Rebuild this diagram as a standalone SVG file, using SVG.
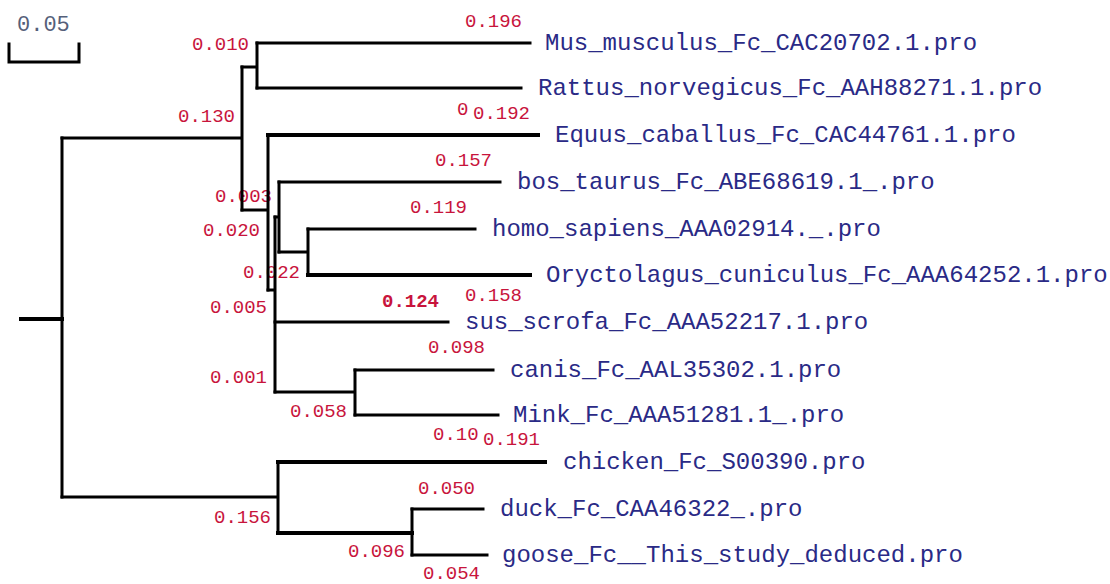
<svg xmlns="http://www.w3.org/2000/svg" width="1110" height="584" viewBox="0 0 1110 584">
  <style>
    .bg { fill: #ffffff; }
    .br { fill: none; stroke: #000000; stroke-width: 3; stroke-linecap: square; }
    .thick { stroke-width: 4; }
    .leaf { font-family: "Liberation Mono", "Courier New", monospace; font-size: 24px; fill: #2a2a86; }
    .len { font-family: "Liberation Mono", "Courier New", monospace; font-size: 19px; fill: #c8143c; }
    .scale { font-family: "Liberation Mono", "Courier New", monospace; font-size: 22px; fill: #55607a; }
  </style>
  <rect class="bg" x="0" y="0" width="1110" height="584"/>

  <!-- scale bar -->
  <g id="scale-bar">
    <text class="scale" x="17" y="31">0.05</text>
    <path class="br" d="M9,44 V62 H79 V44"/>
  </g>

  <!-- branch lengths -->
  <g id="branch-lengths">
    <text class="len" x="465" y="27">0.196</text>
    <text class="len" x="192" y="50">0.010</text>
    <text class="len" x="178" y="122">0.130</text>
    <text class="len" x="457" y="115">0</text>
    <text class="len" x="473" y="119">0.192</text>
    <text class="len" x="435" y="166">0.157</text>
    <text class="len" x="215" y="202">0.003</text>
    <text class="len" x="410" y="213">0.119</text>
    <text class="len" x="203" y="236">0.020</text>
    <text class="len" x="243" y="278">0.022</text>
    <text class="len" x="382" y="307" font-weight="bold">0.124</text>
    <text class="len" x="465" y="301">0.158</text>
    <text class="len" x="210" y="313">0.005</text>
    <text class="len" x="428" y="353">0.098</text>
    <text class="len" x="210" y="383">0.001</text>
    <text class="len" x="290" y="417">0.058</text>
    <text class="len" x="433" y="440">0.10</text>
    <text class="len" x="483" y="445">0.191</text>
    <text class="len" x="418" y="494">0.050</text>
    <text class="len" x="214" y="523">0.156</text>
    <text class="len" x="348" y="557">0.096</text>
    <text class="len" x="423" y="579">0.054</text>
  </g>

  <!-- tree branches -->
  <g id="connectors">
    <path class="br thick" d="M21,319 H62"/>
    <path class="br" d="M62,138 V497"/>
    <path class="br" d="M62,138 H242 M242,67 V210"/>
    <path class="br" d="M242,67 H257 M257,43 V88"/>
    <path class="br" d="M257,43 H530"/>
    <path class="br" d="M257,88 H521"/>
    <path class="br" d="M242,210 H268 M268,135 V290"/>
    <path class="br thick" d="M268,135 H538"/>
    <path class="br" d="M268,290 H275 M275,217 V392"/>
    <path class="br" d="M275,217 H279 M279,182 V252"/>
    <path class="br" d="M279,182 H500"/>
    <path class="br" d="M279,252 H308 M308,229 V275"/>
    <path class="br" d="M308,229 H475"/>
    <path class="br thick" d="M308,275 H530"/>
    <path class="br" d="M275,322 H448"/>
    <path class="br" d="M275,392 H355 M355,370 V415"/>
    <path class="br" d="M355,370 H493"/>
    <path class="br" d="M355,415 H498"/>
    <path class="br" d="M62,497 H278 M278,462 V533"/>
    <path class="br thick" d="M278,462 H545"/>
    <path class="br thick" d="M278,533 H412"/>
    <path class="br" d="M412,509 V555"/>
    <path class="br" d="M412,509 H483"/>
    <path class="br" d="M412,555 H487"/>
  </g>

  <!-- taxa -->
  <g id="mus"><text class="leaf" x="545" y="50">Mus_musculus_Fc_CAC20702.1.pro</text></g>
  <g id="rattus"><text class="leaf" x="538" y="95">Rattus_norvegicus_Fc_AAH88271.1.pro</text></g>
  <g id="equus"><text class="leaf" x="555" y="142">Equus_caballus_Fc_CAC44761.1.pro</text></g>
  <g id="bos"><text class="leaf" x="517" y="189">bos_taurus_Fc_ABE68619.1_.pro</text></g>
  <g id="homo"><text class="leaf" x="492" y="236">homo_sapiens_AAA02914._.pro</text></g>
  <g id="oryctolagus"><text class="leaf" x="546" y="282">Oryctolagus_cuniculus_Fc_AAA64252.1.pro</text></g>
  <g id="sus"><text class="leaf" x="465" y="329">sus_scrofa_Fc_AAA52217.1.pro</text></g>
  <g id="canis"><text class="leaf" x="510" y="377">canis_Fc_AAL35302.1.pro</text></g>
  <g id="mink"><text class="leaf" x="513" y="422">Mink_Fc_AAA51281.1_.pro</text></g>
  <g id="chicken"><text class="leaf" x="563" y="469">chicken_Fc_S00390.pro</text></g>
  <g id="duck"><text class="leaf" x="500" y="516">duck_Fc_CAA46322_.pro</text></g>
  <g id="goose"><text class="leaf" x="502" y="562">goose_Fc__This_study_deduced.pro</text></g>
</svg>
